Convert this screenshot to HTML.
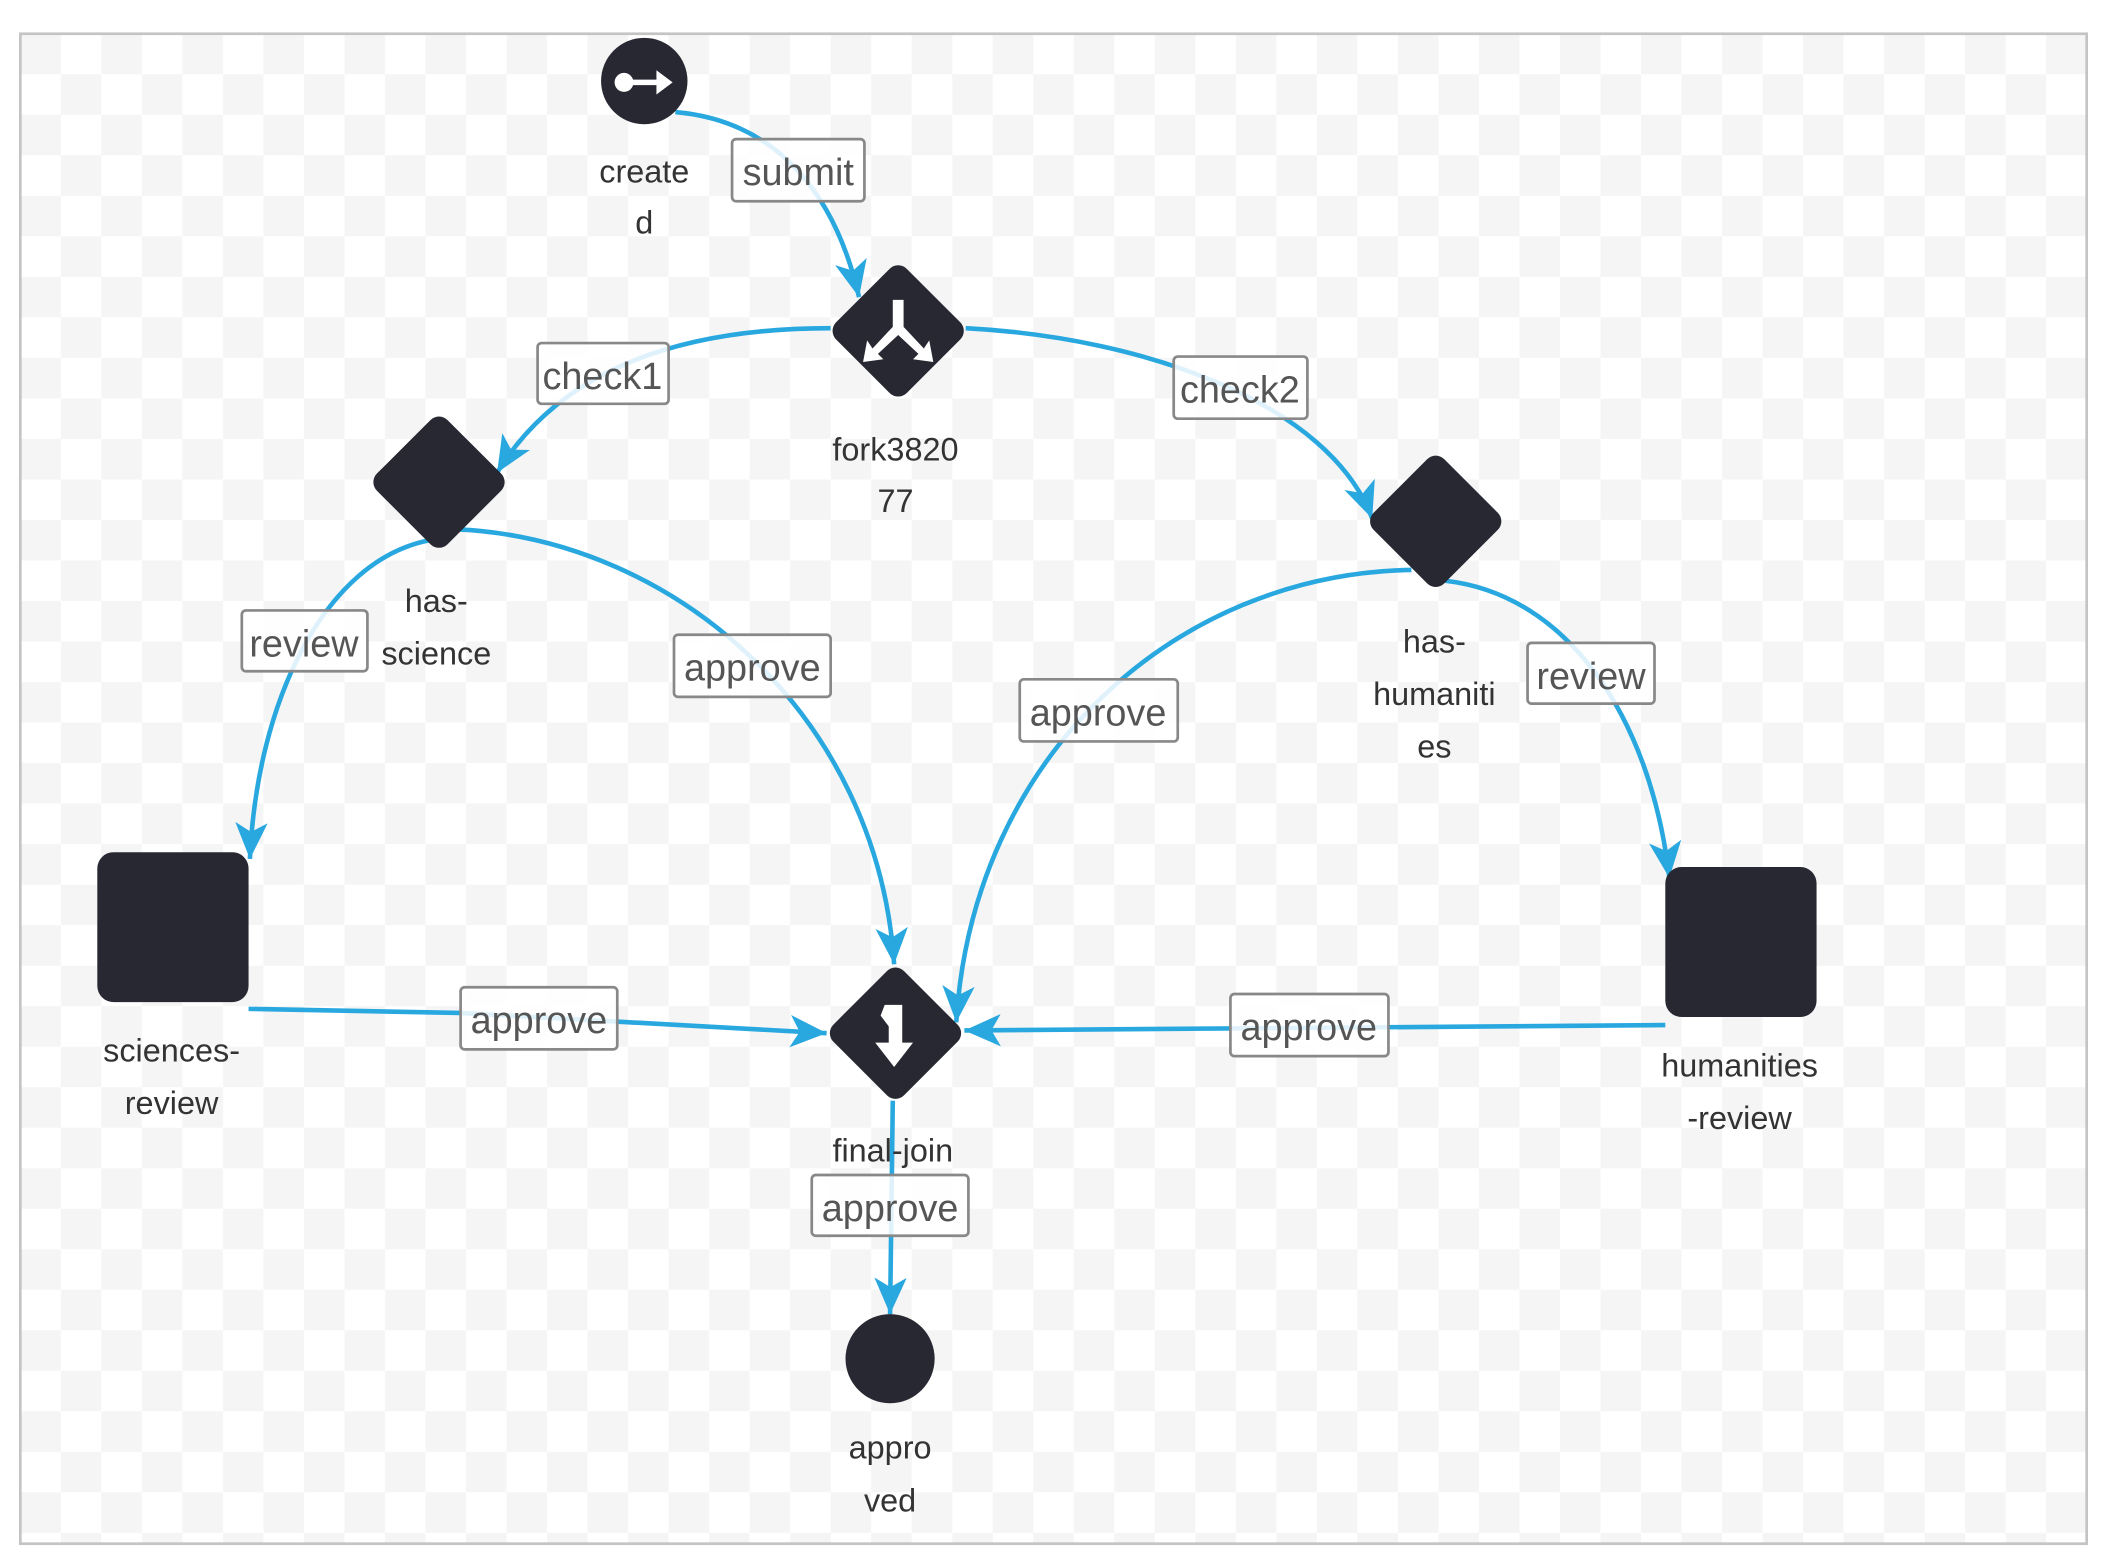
<!DOCTYPE html>
<html><head><meta charset="utf-8"><style>
html,body{margin:0;padding:0;background:#fff;}
svg{display:block;}
text{font-family:"Liberation Sans",sans-serif;}
</style></head><body>
<svg width="2107" height="1568" viewBox="0 0 1560 1161" xmlns="http://www.w3.org/2000/svg">
<defs>
<pattern id="chk" x="15" y="25" width="60" height="60" patternUnits="userSpaceOnUse">
<rect width="60" height="60" fill="#ffffff"/>
<rect width="30" height="30" fill="#f5f5f5"/>
<rect x="30" y="30" width="30" height="30" fill="#f5f5f5"/>
</pattern>
<marker id="ah" markerUnits="userSpaceOnUse" markerWidth="34" markerHeight="28" refX="27" refY="12" orient="auto">
<path d="M0,0 L27,12 L0,24 L7,12 z" fill="#29a8e0"/>
</marker>
</defs>
<rect x="15" y="25" width="1530" height="1118" fill="url(#chk)" stroke="#c4c4c4" stroke-width="2"/>

<g fill="none" stroke="#29a8e0" stroke-width="3.4">
<path d="M500,83 C580,90 620,150 636,220" marker-end="url(#ah)"/>
<path d="M615,243 C520,243 420,265 368,350" marker-end="url(#ah)"/>
<path d="M715,243 C850,250 985,300 1016,384" marker-end="url(#ah)"/>
<path d="M318,400 C240,415 190,520 185,636" marker-end="url(#ah)"/>
<path d="M340,392 C500,400 650,530 662,714" marker-end="url(#ah)"/>
<path d="M1045,422 C870,425 720,560 708,757" marker-end="url(#ah)"/>
<path d="M1070,430 C1160,440 1222,530 1236,650" marker-end="url(#ah)"/>
<path d="M184,747 L340,750 L612,765" marker-end="url(#ah)"/>
<path d="M1233,759 L714,763" marker-end="url(#ah)"/>
<path d="M661,815 L659,973" marker-end="url(#ah)"/>
</g>

<g fill="#fff" fill-opacity="0.85" stroke="#888" stroke-width="2">
<rect x="542" y="103" width="98" height="46" rx="3"/>
<rect x="398" y="254" width="97" height="45" rx="3"/>
<rect x="869" y="264" width="99" height="46" rx="3"/>
<rect x="179" y="452" width="93" height="45" rx="3"/>
<rect x="499" y="470" width="116" height="46" rx="3"/>
<rect x="755" y="503" width="117" height="46" rx="3"/>
<rect x="1131" y="476" width="94" height="45" rx="3"/>
<rect x="341" y="731" width="116" height="46" rx="3"/>
<rect x="911" y="736" width="117" height="46" rx="3"/>
<rect x="601" y="870" width="116" height="45" rx="3"/>
</g>
<g fill="#555" font-size="28" text-anchor="middle">
<text x="591" y="137">submit</text>
<text x="446" y="288">check1</text>
<text x="918" y="298">check2</text>
<text x="225" y="486">review</text>
<text x="557" y="504">approve</text>
<text x="813" y="537">approve</text>
<text x="1178" y="510">review</text>
<text x="399" y="765">approve</text>
<text x="969" y="770">approve</text>
<text x="659" y="904">approve</text>
</g>

<g fill="#282833">
<circle cx="477" cy="60" r="32"/>
<rect x="628" y="208" width="74" height="74" rx="9" transform="rotate(45 665 245)"/>
<rect x="288" y="320" width="74" height="74" rx="9" transform="rotate(45 325 357)"/>
<rect x="1026" y="349" width="74" height="74" rx="9" transform="rotate(45 1063 386)"/>
<rect x="626" y="728" width="74" height="74" rx="9" transform="rotate(45 663 765)"/>
<rect x="72" y="631" width="112" height="111" rx="12"/>
<rect x="1233" y="642" width="112" height="111" rx="12"/>
<circle cx="659" cy="1006" r="33"/>
</g>
<g fill="#fff" stroke="#fff">
<circle cx="462" cy="61" r="7" stroke="none"/>
<line x1="465" y1="61" x2="488" y2="61" stroke-width="4"/>
<path d="M486,52 L498,61 L486,70 z" stroke="none"/>
<path d="M661,222 L669,222 L669,242 L684,258 L688,252 L691,268 L676,266 L680,262 L665,248 L650,262 L654,266 L639,268 L642,252 L646,258 L661,242 z" stroke="none"/>
<path d="M655,744 L668,744 L668,772 L676,772 L662,790 L648,772 L658,772 L658,760 L652,752 z" stroke="none"/>
</g>

<g fill="#333" font-size="24" text-anchor="middle">
<text x="477" y="135">create</text>
<text x="477" y="173">d</text>
<text x="663" y="341">fork3820</text>
<text x="663" y="379">77</text>
<text x="323" y="453">has-</text>
<text x="323" y="492">science</text>
<text x="1062" y="483">has-</text>
<text x="1062" y="522">humaniti</text>
<text x="1062" y="561">es</text>
<text x="127" y="786">sciences-</text>
<text x="127" y="825">review</text>
<text x="1288" y="797">humanities</text>
<text x="1288" y="836">-review</text>
<text x="661" y="860">final-join</text>
<text x="659" y="1080">appro</text>
<text x="659" y="1119">ved</text>
</g>
</svg>
</body></html>
